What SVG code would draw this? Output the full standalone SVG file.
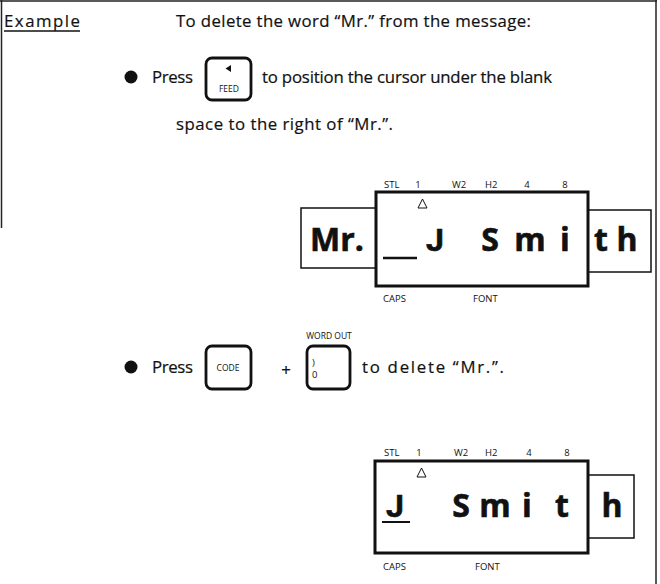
<svg xmlns="http://www.w3.org/2000/svg" width="660" height="584" viewBox="0 0 660 584">
<style>
.t{font-family:"Open Sans","Liberation Sans",sans-serif;font-size:16.8px;fill:#111;stroke:#111;stroke-width:0.2}
.s{font-family:"Open Sans","Liberation Sans",sans-serif;font-size:9.5px;fill:#111}
.k{font-family:"Open Sans","Liberation Sans",sans-serif;font-size:8.5px;fill:#111}
.b{font-family:"Open Sans","Liberation Sans",sans-serif;font-size:32px;font-weight:bold;fill:#111;text-anchor:middle;stroke:#111;stroke-width:0.6}
.j{font-family:Roboto,"Liberation Sans",sans-serif}
.key{fill:#fff;stroke:#111;stroke-width:2.8}
.main{fill:#fff;stroke:#111;stroke-width:3}
.side{fill:#fff;stroke:#111;stroke-width:1.5}
.tri{fill:none;stroke:#111;stroke-width:1}
.frame{fill:none;stroke:#222;stroke-width:1.5}
</style>
<g id="frame">
<line class="frame" x1="0" y1="1" x2="657" y2="1"/>
<line class="frame" x1="1.5" y1="0" x2="1.5" y2="228"/>
<line class="frame" x1="656" y1="0" x2="656" y2="584"/>
</g>
<g id="heading">
<text class="t" x="4" y="27" textLength="76">Example</text>
<line x1="4" y1="31" x2="80" y2="31" stroke="#111" stroke-width="1.3"/>
<text class="t" x="176" y="27" textLength="355">To delete the word “Mr.” from the message:</text>
</g>
<g id="step1">
<circle cx="131" cy="77" r="6.5" fill="#111"/>
<text class="t" x="152" y="83" textLength="41">Press</text>
<g id="key-feed">
<rect class="key" x="206" y="58" width="45" height="42" rx="6"/>
<polygon points="225.5,68.5 231,65 231,72" fill="#111"/>
<text class="k" x="229" y="92" text-anchor="middle">FEED</text>
</g>
<text class="t" x="262" y="83" textLength="290">to position the cursor under the blank</text>
<text class="t" x="176" y="130" textLength="217">space to the right of “Mr.”.</text>
</g>
<g id="display1">
<text class="s" x="384" y="188">STL</text>
<text class="s" x="418" y="188" text-anchor="middle">1</text>
<text class="s" x="452" y="188">W2</text>
<text class="s" x="485" y="188">H2</text>
<text class="s" x="527" y="188" text-anchor="middle">4</text>
<text class="s" x="565" y="188" text-anchor="middle">8</text>
<rect class="side" x="301" y="208" width="75" height="60"/>
<rect class="side" x="588" y="210" width="63" height="62"/>
<rect class="main" x="376" y="192" width="212" height="94"/>
<polygon class="tri" points="418,208 427,208 422.5,199"/>
<text class="b" x="337" y="251">Mr.</text>
<line x1="383" y1="258" x2="417" y2="258" stroke="#111" stroke-width="2.5"/>
<text class="b j" x="435" y="251">J</text>
<text class="b" x="490" y="251">S</text>
<text class="b" x="530" y="251">m</text>
<text class="b" x="565" y="251">i</text>
<text class="b" x="601" y="251">t</text>
<text class="b" x="627" y="251">h</text>
<text class="s" x="383" y="302">CAPS</text>
<text class="s" x="473" y="302">FONT</text>
</g>
<g id="step2">
<circle cx="131" cy="367" r="6.5" fill="#111"/>
<text class="t" x="152" y="373" textLength="41">Press</text>
<g id="key-code">
<rect class="key" x="206" y="346" width="45" height="43" rx="6"/>
<text class="k" x="228" y="371" text-anchor="middle">CODE</text>
</g>
<text class="t" x="286" y="376" text-anchor="middle">+</text>
<g id="key-wordout">
<text class="k" x="329" y="339" text-anchor="middle">WORD OUT</text>
<rect class="key" x="307" y="346" width="43" height="43" rx="6"/>
<text class="s" x="312" y="366">)</text>
<text class="s" x="312" y="378">0</text>
</g>
<text class="t" x="362" y="373" textLength="142">to delete “Mr.”.</text>
</g>
<g id="display2">
<text class="s" x="384" y="456">STL</text>
<text class="s" x="419" y="456" text-anchor="middle">1</text>
<text class="s" x="454" y="456">W2</text>
<text class="s" x="485" y="456">H2</text>
<text class="s" x="529" y="456" text-anchor="middle">4</text>
<text class="s" x="567" y="456" text-anchor="middle">8</text>
<rect class="side" x="588" y="475" width="46" height="63"/>
<rect class="main" x="375" y="461" width="213" height="92"/>
<polygon class="tri" points="417,477 426,477 421.5,468"/>
<text class="b j" x="395" y="517">J</text>
<line x1="382" y1="522" x2="410" y2="522" stroke="#111" stroke-width="2"/>
<text class="b" x="461" y="517">S</text>
<text class="b" x="495" y="517">m</text>
<text class="b" x="527" y="517">i</text>
<text class="b" x="562" y="517">t</text>
<text class="b" x="612" y="517">h</text>
<text class="s" x="383" y="570">CAPS</text>
<text class="s" x="475" y="570">FONT</text>
</g>
</svg>
